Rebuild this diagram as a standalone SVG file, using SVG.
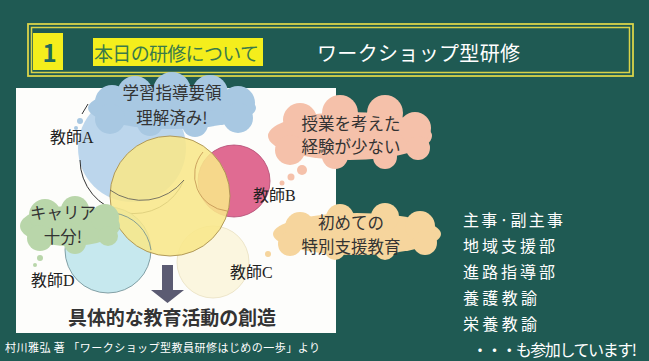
<svg xmlns="http://www.w3.org/2000/svg" width="649" height="361" viewBox="0 0 649 361">
<defs>
<style>
.jp{font-family:"Noto Sans CJK JP","Noto Sans",sans-serif}
.lbl{font-family:"Liberation Serif","Noto Sans CJK JP",serif;font-size:16px;fill:#222}
.ct{font-family:"Noto Sans CJK JP",sans-serif;font-size:16.5px;fill:#333;text-anchor:middle}
.wl{font-family:"Noto Sans CJK JP",sans-serif;font-size:16px;fill:#fff}
</style>
</defs>
<rect width="649" height="361" fill="#1f5a53"/>
<g id="title">
<rect x="28" y="24" width="605" height="52" fill="none" stroke="#d9d34a" stroke-width="1.8"/>
<rect x="31.5" y="27.5" width="598" height="45" fill="none" stroke="#d9d34a" stroke-width="1.5"/>
<rect x="33" y="33" width="30" height="37" fill="#f4ee1c"/>
<text x="49.5" y="62" class="jp" font-size="24" font-weight="bold" fill="#1f6a5a" text-anchor="middle">1</text>
<rect x="93" y="38" width="170" height="28" fill="#f4ee1c"/>
<text x="94" y="61" class="jp" font-size="19" fill="#3a7a4a" textLength="165">本日の研修について</text>
<text x="317" y="61" class="jp" font-size="20" fill="#fff" textLength="203">ワークショップ型研修</text>
</g>
<g id="picture">
<rect x="16" y="88" width="320" height="245" fill="#fdfdfb"/>
</g>
<g id="teacherA">
<circle cx="132" cy="148" r="54" fill="#bcd6ec"/>
<path d="M 80 160 A 54 54 0 0 0 184 180" fill="none" stroke="#333" stroke-width="1"/>
<path d="M 88 104 L 82 114" stroke="#333" stroke-width="1"/>
<text x="50" y="143" class="lbl">教師A</text>
</g>
<g id="teacherD">
<circle cx="108" cy="250" r="43" fill="#c6e8ee" stroke="#6a8a90" stroke-width="0.8"/>
<text x="31" y="286" class="lbl">教師D</text>
</g>
<g id="teacherC">
<circle cx="213" cy="262" r="36" fill="#fbf6df" stroke="#e8e0c0" stroke-width="0.8"/>
<text x="230" y="278" class="lbl">教師C</text>
</g>
<g id="teacherB">
<circle cx="234" cy="181" r="36" fill="#e06b92" stroke="#b04870" stroke-width="0.8"/>
<text x="253" y="201" class="lbl">教師B</text>
</g>
<g id="center">
<circle cx="170" cy="196" r="60" fill="#f8e78a" fill-opacity="0.88" stroke="#a89050" stroke-width="0.9"/>
<path d="M 110 190 A 54 54 0 0 0 184 180" fill="none" stroke="#555" stroke-width="0.8"/>
<path d="M 114 213 A 43 43 0 0 1 151 250" fill="none" stroke="#6a8a90" stroke-width="0.8"/>
<path d="M 227 211 A 36 36 0 0 1 203 152" fill="none" stroke="#c09050" stroke-width="0.8"/>
</g>
<g id="cloudA">
<g fill="#a8c8e2">
<ellipse cx="172" cy="108" rx="84" ry="21"/>
<circle cx="112" cy="102" r="17"/>
<circle cx="135" cy="94" r="18"/>
<circle cx="172" cy="91" r="19"/>
<circle cx="210" cy="93" r="18"/>
<circle cx="238" cy="103" r="17"/>
<circle cx="110" cy="119" r="15"/>
<circle cx="150" cy="123" r="13"/>
<circle cx="195" cy="124" r="13"/>
<circle cx="238" cy="118" r="15"/>
<circle cx="80" cy="121" r="3"/>
<circle cx="76" cy="128" r="2"/>
</g>
<text x="172" y="99" class="ct">学習指導要領</text>
<text x="172" y="124" class="ct">理解済み!</text>
</g>
<g id="cloudB">
<g fill="#f5c1aa">
<ellipse cx="350" cy="136" rx="82" ry="24"/>
<circle cx="300" cy="120" r="17"/>
<circle cx="340" cy="113" r="18"/>
<circle cx="385" cy="113" r="18"/>
<circle cx="415" cy="128" r="16"/>
<circle cx="290" cy="150" r="15"/>
<circle cx="335" cy="156" r="13"/>
<circle cx="385" cy="157" r="12"/>
<circle cx="418" cy="148" r="12"/>
<circle cx="302" cy="170" r="5"/>
<circle cx="291" cy="177" r="3.5"/>
<circle cx="282" cy="183" r="2.5"/>
</g>
<text x="351" y="130" class="ct">授業を考えた</text>
<text x="351" y="153" class="ct">経験が少ない</text>
</g>
<g id="cloudC">
<g fill="#f6d59d">
<ellipse cx="357" cy="234" rx="84" ry="21"/>
<circle cx="300" cy="227" r="15"/>
<circle cx="340" cy="218" r="14"/>
<circle cx="385" cy="217" r="14"/>
<circle cx="420" cy="226" r="15"/>
<circle cx="290" cy="244" r="12"/>
<circle cx="335" cy="250" r="10"/>
<circle cx="385" cy="250" r="10"/>
<circle cx="425" cy="243" r="12"/>
<circle cx="268" cy="254" r="3"/>
</g>
<text x="351" y="229" class="ct">初めての</text>
<text x="351" y="253" class="ct">特別支援教育</text>
</g>
<g id="cloudD">
<g fill="#b9d6aa">
<ellipse cx="70" cy="226" rx="50" ry="20"/>
<circle cx="45" cy="215" r="16"/>
<circle cx="75" cy="210" r="14"/>
<circle cx="105" cy="218" r="14"/>
<circle cx="40" cy="238" r="13"/>
<circle cx="75" cy="243" r="11"/>
<circle cx="108" cy="236" r="10"/>
<circle cx="40" cy="258" r="3"/>
<circle cx="35" cy="265" r="2"/>
</g>
<text x="63" y="219" class="ct">キャリア</text>
<text x="63" y="243" class="ct">十分!</text>
</g>
<g id="connectors">
<path d="M 162 265 H 173 V 290 H 184 L 167.5 303 L 151 290 H 162 Z" fill="#5b5b72"/>
</g>
<g id="result">
<text x="172" y="325" class="jp" font-size="19" font-weight="bold" fill="#333" text-anchor="middle" textLength="208">具体的な教育活動の創造</text>
</g>
<g id="caption">
<text x="5" y="352" class="jp" font-size="11" fill="#fff" textLength="315">村川雅弘 著 「ワークショップ型教員研修はじめの一歩」より</text>
</g>
<g id="list">
<text x="463" y="226" class="wl" textLength="100">主事·副主事</text>
<text x="463" y="252" class="wl" textLength="92">地域支援部</text>
<text x="463" y="278" class="wl" textLength="92">進路指導部</text>
<text x="463" y="304" class="wl" textLength="74">養護教諭</text>
<text x="463" y="330" class="wl" textLength="74">栄養教諭</text>
<text x="472" y="356" class="wl" font-size="15" textLength="165">・・・も参加しています!</text>
</g>
</svg>
